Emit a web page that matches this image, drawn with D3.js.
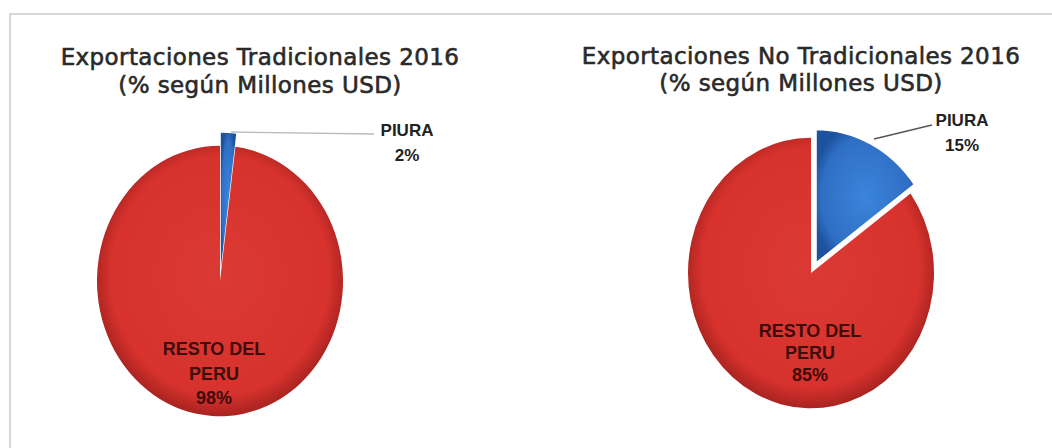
<!DOCTYPE html>
<html><head><meta charset="utf-8">
<script src="https://cdn.jsdelivr.net/npm/d3@7"></script>
<style>html,body{margin:0;padding:0;background:#fff;}svg{display:block;}</style>
</head><body>
<svg id="c" width="1052" height="448"></svg>
<script>
const categories = ["PIURA", "RESTO DEL PERU"];
const tradicionales = [2, 98];
const noTradicionales = [15, 85];
const titles = [
  ["Exportaciones Tradicionales 2016", "(% según Millones USD)"],
  ["Exportaciones No Tradicionales 2016", "(% según Millones USD)"]
];
const insideLabel = ["RESTO DEL", "PERU"];

const svg = d3.select("#c");
const defs = svg.append("defs");
const rg = defs.append("radialGradient").attr("id","gRed").attr("cx","50%").attr("cy","48%").attr("r","52%");
rg.append("stop").attr("offset","0%").attr("stop-color","#db3a34");
rg.append("stop").attr("offset","85%").attr("stop-color","#d7322d");
rg.append("stop").attr("offset","100%").attr("stop-color","#a82320");
const bg = defs.append("radialGradient").attr("id","gBlue").attr("cx","50%").attr("cy","50%").attr("r","55%");
bg.append("stop").attr("offset","0%").attr("stop-color","#3b84dc");
bg.append("stop").attr("offset","80%").attr("stop-color","#2f6fc4");
bg.append("stop").attr("offset","100%").attr("stop-color","#1d529e");

svg.append("rect").attr("x",10).attr("y",14).attr("width",1100).attr("height",500)
  .attr("fill","none").attr("stroke","#d6d6d6").attr("stroke-width",2);

const charts = [
  {values: tradicionales, cx: 220, cy: 281, explode: 13, titleX: 260, titleY: [65, 93],
   leader: [[231,132],[374,134]], leaderColor: "#b4bcc0", labX: 407, labY: [136, 161],
   inX: 214, inY: [355, 380, 404]},
  {values: noTradicionales, cx: 811, cy: 273, explode: 10, titleX: 801, titleY: [64, 91],
   leader: [[874,139],[932,125]], leaderColor: "#555", labX: 962, labY: [126, 151],
   inX: 810, inY: [337, 359, 381]}
];

const R = 123, SY = 1.1;
const pie = d3.pie().sort(null).value(d => d);
const arc = d3.arc().innerRadius(0).outerRadius(R);
const color = d3.scaleOrdinal().domain(categories).range(["url(#gBlue)", "url(#gRed)"]);

charts.forEach((c, ci) => {
  const g = svg.append("g");
  titles[ci].forEach((t, i) => {
    g.append("text").attr("x", c.titleX).attr("y", c.titleY[i])
      .attr("text-anchor","middle").attr("font-family","DejaVu Sans")
      .attr("font-size", 23).attr("letter-spacing", 0.4)
      .attr("fill","#2a2a2a").attr("stroke","#2a2a2a").attr("stroke-width",0.6)
      .text(t);
  });
  const arcs = pie(c.values);
  const pg = g.append("g").attr("transform", `translate(${c.cx},${c.cy}) scale(1,${SY})`);
  arcs.forEach((a, i) => {
    const mid = (a.startAngle + a.endAngle) / 2;
    const off = i === 0 ? c.explode : 0;
    const dx = Math.sin(mid) * off, dy = -Math.cos(mid) * off / SY;
    pg.append("path").attr("d", arc(a)).attr("transform", `translate(${dx},${dy})`)
      .attr("fill", color(categories[i]))
      .attr("stroke", i === 0 && ci === 1 ? "#fff" : "none").attr("stroke-width", 2.5);
  });
  g.append("polyline").attr("points", c.leader.map(p => p.join(",")).join(" "))
    .attr("fill","none").attr("stroke", c.leaderColor).attr("stroke-width", 1.3);
  const pct = c.values[0] + "%";
  [categories[0], pct].forEach((t, i) => {
    g.append("text").attr("x", c.labX).attr("y", c.labY[i]).attr("text-anchor","middle")
      .attr("font-family","Liberation Sans").attr("font-weight","bold").attr("font-size",17)
      .attr("fill","#222").text(t);
  });
  [insideLabel[0], insideLabel[1], c.values[1] + "%"].forEach((t, i) => {
    g.append("text").attr("x", c.inX).attr("y", c.inY[i]).attr("text-anchor","middle")
      .attr("font-family","Liberation Sans").attr("font-weight","bold").attr("font-size",18)
      .attr("fill","#3e0c0a").text(t);
  });
});
</script>
</body></html>
